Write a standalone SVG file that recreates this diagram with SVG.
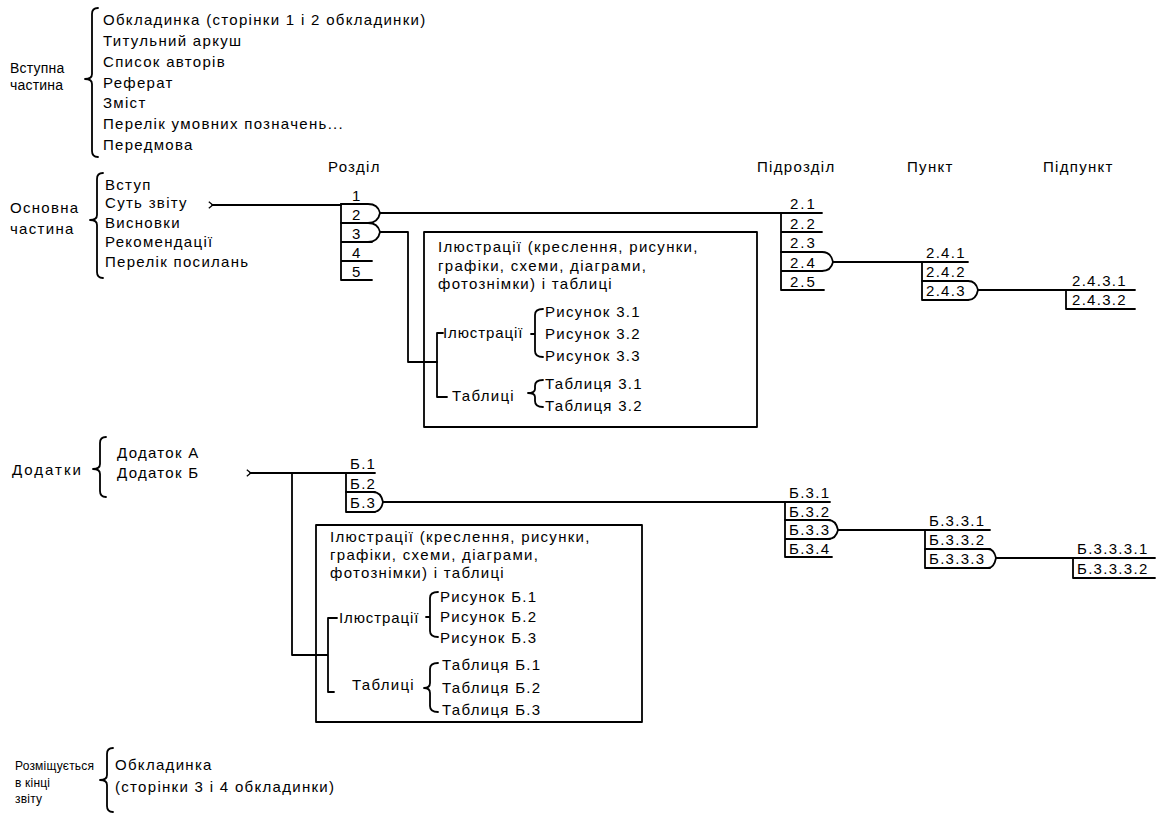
<svg xmlns="http://www.w3.org/2000/svg" width="1157" height="816" viewBox="0 0 1157 816">
<defs>
<style>
.t{font-family:"Liberation Sans",Arial,sans-serif;font-size:15px;letter-spacing:1.3px;fill:#000}
.s{font-size:14px;letter-spacing:0.2px}
.xs{font-size:12px;letter-spacing:0.2px}
.w{letter-spacing:2px}
.n{letter-spacing:0.9px}
.ln{fill:none;stroke:#000;stroke-width:1.8;stroke-linejoin:round;stroke-linecap:round}
</style>
<marker id="tail" viewBox="0 0 10 10" refX="5" refY="5" markerWidth="8" markerHeight="8" orient="auto" markerUnits="userSpaceOnUse">
<path d="M1,1 L6,5 L1,9" fill="none" stroke="#000" stroke-width="1.6"/>
</marker>
</defs>
<rect width="1157" height="816" fill="#fff"/>

<g id="intro">
<text class="t s" x="10" y="73">Вступна</text>
<text class="t s" x="10" y="90">частина</text>
<path class="ln" d="M98,8 Q92,8 92,14 V74 Q92,79 85,79 Q92,79 92,84 V151 Q92,157 98,157"/>
<text class="t" x="103" y="25">Обкладинка (сторінки 1 і 2 обкладинки)</text>
<text class="t" x="103" y="46">Титульний аркуш</text>
<text class="t" x="103" y="67">Список авторів</text>
<text class="t" x="103" y="88">Реферат</text>
<text class="t" x="103" y="108">Зміст</text>
<text class="t" x="103" y="129">Перелік умовних позначень...</text>
<text class="t" x="103" y="150">Передмова</text>
</g>

<g id="main">
<text class="t" x="10" y="213">Основна</text>
<text class="t" x="10" y="234">частина</text>
<path class="ln" d="M103,173 Q97,173 97,179 V215 Q97,220 90,220 Q97,220 97,225 V272 Q97,278 103,278"/>
<text class="t" x="105" y="190">Вступ</text>
<text class="t" x="105" y="208">Суть звіту</text>
<text class="t" x="105" y="228">Висновки</text>
<text class="t" x="105" y="247">Рекомендації</text>
<text class="t" x="105" y="267">Перелік посилань</text>
</g>

<g id="headers">
<text class="t" x="328" y="172">Розділ</text>
<text class="t" x="757" y="172">Підрозділ</text>
<text class="t" x="907" y="172">Пункт</text>
<text class="t" x="1043" y="172">Підпункт</text>
</g>

<g id="sections">
<text class="t" x="352" y="201">1</text>
<text class="t" x="352" y="220">2</text>
<text class="t" x="352" y="239">3</text>
<text class="t" x="352" y="258">4</text>
<text class="t" x="352" y="277">5</text>
</g>

<g id="subsections">
<text class="t w" x="790" y="209">2.1</text>
<text class="t w" x="790" y="229">2.2</text>
<text class="t w" x="790" y="248">2.3</text>
<text class="t w" x="790" y="268">2.4</text>
<text class="t w" x="790" y="287">2.5</text>
</g>

<g id="points">
<text class="t" x="926" y="258">2.4.1</text>
<text class="t" x="926" y="277">2.4.2</text>
<text class="t" x="926" y="296">2.4.3</text>
</g>

<g id="subpoints">
<text class="t" x="1072" y="286">2.4.3.1</text>
<text class="t" x="1072" y="305">2.4.3.2</text>
</g>

<g id="box1">
<rect class="ln" x="424" y="232" width="333" height="195"/>
<text class="t" x="438" y="252">Ілюстрації (креслення, рисунки,</text>
<text class="t" x="438" y="271">графіки, схеми, діаграми,</text>
<text class="t" x="438" y="289">фотознімки) і таблиці</text>
<text class="t n" x="443" y="338">Ілюстрації</text>
<text class="t" x="452" y="401">Таблиці</text>
<path class="ln" d="M543,309 Q535,309 535,315 V351 Q535,357 543,357 M535,334 H531"/>
<text class="t" x="545" y="317">Рисунок 3.1</text>
<text class="t" x="545" y="339">Рисунок 3.2</text>
<text class="t" x="545" y="361">Рисунок 3.3</text>
<path class="ln" d="M543,380 Q535,380 535,386 V389 Q535,393 528,393 Q535,393 535,397 V401 Q535,407 543,407"/>
<text class="t" x="545" y="389">Таблиця 3.1</text>
<text class="t" x="545" y="411">Таблиця 3.2</text>
</g>

<g id="appendices">
<text class="t w" x="12" y="475">Додатки</text>
<path class="ln" d="M106,437 Q100,437 100,443 V464 Q100,469 93,469 Q100,469 100,474 V491 Q100,497 106,497"/>
<text class="t" x="117" y="458">Додаток А</text>
<text class="t" x="117" y="478">Додаток Б</text>
</g>

<g id="app-sections">
<text class="t" x="350" y="469">Б.1</text>
<text class="t" x="350" y="489">Б.2</text>
<text class="t" x="350" y="508">Б.3</text>
</g>

<g id="app-subsections">
<text class="t" x="789" y="498">Б.3.1</text>
<text class="t" x="789" y="517">Б.3.2</text>
<text class="t" x="789" y="535">Б.3.3</text>
<text class="t" x="789" y="554">Б.3.4</text>
</g>

<g id="app-points">
<text class="t" x="929" y="526">Б.3.3.1</text>
<text class="t" x="929" y="545">Б.3.3.2</text>
<text class="t" x="929" y="564">Б.3.3.3</text>
</g>

<g id="app-subpoints">
<text class="t" x="1077" y="554">Б.3.3.3.1</text>
<text class="t" x="1077" y="574">Б.3.3.3.2</text>
</g>

<g id="box2">
<rect class="ln" x="316" y="525" width="326" height="197"/>
<text class="t" x="330" y="542">Ілюстрації (креслення, рисунки,</text>
<text class="t" x="330" y="560">графіки, схеми, діаграми,</text>
<text class="t" x="330" y="578">фотознімки) і таблиці</text>
<text class="t n" x="339" y="623">Ілюстрації</text>
<text class="t" x="352" y="690">Таблиці</text>
<path class="ln" d="M438,592 Q430,592 430,598 V631 Q430,637 438,637 M430,617 H426"/>
<text class="t" x="440" y="602">Рисунок Б.1</text>
<text class="t" x="440" y="622">Рисунок Б.2</text>
<text class="t" x="440" y="643">Рисунок Б.3</text>
<path class="ln" d="M438,663 Q430,663 430,669 V683 Q430,688 424,688 Q430,688 430,693 V706 Q430,712 438,712"/>
<text class="t" x="442" y="670">Таблиця Б.1</text>
<text class="t" x="442" y="693">Таблиця Б.2</text>
<text class="t" x="442" y="715">Таблиця Б.3</text>
</g>

<g id="final">
<text class="t xs" x="15" y="770">Розміщується</text>
<text class="t xs" x="15" y="787">в кінці</text>
<text class="t xs" x="15" y="803">звіту</text>
<path class="ln" d="M113,748 Q107,748 107,754 V775 Q107,780 100,780 Q107,780 107,785 V806 Q107,812 113,812"/>
<text class="t" x="115" y="770">Обкладинка</text>
<text class="t" x="115" y="792">(сторінки 3 і 4 обкладинки)</text>
</g>

<g id="connectors">
<path class="ln" marker-start="url(#tail)" d="M212,205 H341"/>
<path class="ln" d="M341,204 V280 M341,223 H372 M341,242 H372 M341,261 H372 M341,280 H372"/>
<path class="ln" d="M341,204 H368 Q378,204 380,213 Q378,223 368,223"/>
<path class="ln" d="M341,223 H368 Q378,223 380,232 Q378,242 368,242"/>
<path class="ln" d="M380,213 H781"/>
<path class="ln" d="M380,232 H408 V362 H437"/>
<path class="ln" d="M437,333 H443 M437,333 V397 H447"/>
<path class="ln" d="M781,213 V290 M781,213 H822 M781,232 H822 M781,252 H822 M781,271 H822 M781,290 H824"/>
<path class="ln" d="M781,252 H822 Q831,252 833,262 Q831,271 822,271"/>
<path class="ln" d="M833,262 H922"/>
<path class="ln" d="M922,262 V300 M922,262 H968 M922,281 H968 M922,300 H968"/>
<path class="ln" d="M922,281 H968 Q976,281 978,290 Q976,300 968,300"/>
<path class="ln" d="M978,290 H1135 M1066,290 V309 H1135"/>
<path class="ln" marker-start="url(#tail)" d="M250,473 H346"/>
<path class="ln" d="M292,473 V655 H328 M328,618 H337 M328,618 V692 H334"/>
<path class="ln" d="M346,473 V512 M346,473 H375 M346,492 H375 M346,512 H375"/>
<path class="ln" d="M346,492 H373 Q381,492 383,502 Q381,512 373,512"/>
<path class="ln" d="M383,502 H785"/>
<path class="ln" d="M785,502 V557 M785,502 H830 M785,520 H830 M785,539 H830 M785,557 H832"/>
<path class="ln" d="M785,520 H828 Q836,520 838,530 Q836,539 828,539"/>
<path class="ln" d="M838,530 H925"/>
<path class="ln" d="M925,530 V568 M925,530 H990 M925,549 H990 M925,568 H990"/>
<path class="ln" d="M925,549 H988 Q994,549 996,558 Q994,568 988,568"/>
<path class="ln" d="M996,558 H1155 M1073,558 V578 H1155"/>
</g>
</svg>
